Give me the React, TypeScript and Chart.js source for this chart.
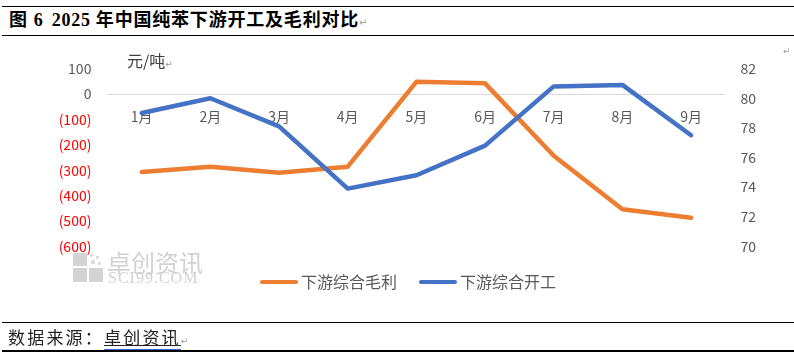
import React, { useEffect, useRef } from 'react';
import { Chart, registerables } from 'chart.js';

Chart.register(...registerables);

// ---- data ----
const categories = ['1月', '2月', '3月', '4月', '5月', '6月', '7月', '8月', '9月'];
const grossProfit = [-307, -286, -310, -286, 48, 42, -243, -454, -487];
const operatingRate = [79.0, 80.0, 78.1, 73.9, 74.8, 76.8, 80.8, 80.9, 77.5];
const seriesNames = ['下游综合毛利', '下游综合开工'];
const profitAxis = [-600, 100, 100]; // min, max, step
const rateAxis = [70, 82, 2]; // min, max, step

const FONT = '"Noto Sans CJK SC", "Noto Sans", sans-serif';
const ORANGE = '#ED7D31';
const BLUE = '#4472C4';

const legendPlugin = {
  id: 'customLegend',
  afterDraw(chart: any) {
    const ctx = chart.ctx;
    ctx.save();
    ctx.font = `16px ${FONT}`;
    ctx.textBaseline = 'middle';
    let x = 260;
    const y = 282;
    chart.data.datasets.forEach((ds: any) => {
      ctx.strokeStyle = ds.borderColor;
      ctx.lineWidth = 4;
      ctx.lineCap = 'round';
      ctx.beginPath();
      ctx.moveTo(x + 2, y);
      ctx.lineTo(x + 36, y);
      ctx.stroke();
      ctx.fillStyle = '#595959';
      ctx.fillText(ds.label, x + 41, y);
      x += 41 + ctx.measureText(ds.label).width + 22;
    });
    ctx.restore();
  },
};

function App() {
  const ref = useRef<HTMLCanvasElement | null>(null);

  useEffect(() => {
    document.body.style.margin = '0';
    const chart = new Chart(ref.current as HTMLCanvasElement, {
      type: 'line',
      data: {
        labels: categories,
        datasets: [
          {
            label: seriesNames[0],
            data: grossProfit,
            borderColor: ORANGE,
            backgroundColor: ORANGE,
            borderWidth: 4.5,
            pointRadius: 0,
            borderCapStyle: 'round',
            borderJoinStyle: 'round',
            tension: 0,
            yAxisID: 'y',
            order: 1,
          },
          {
            label: seriesNames[1],
            data: operatingRate,
            borderColor: BLUE,
            backgroundColor: BLUE,
            borderWidth: 4.5,
            pointRadius: 0,
            borderCapStyle: 'round',
            borderJoinStyle: 'round',
            tension: 0,
            yAxisID: 'y1',
            order: 0,
          },
        ],
      },
      options: {
        animation: false,
        responsive: false,
        maintainAspectRatio: false,
        layout: { padding: { top: 68.6, bottom: 114.6, left: 0, right: 0 } },
        plugins: { legend: { display: false }, tooltip: { enabled: false } },
        scales: {
          x: {
            type: 'category',
            position: { y: 0 } as any,
            offset: true,
            grid: { display: false, drawTicks: false },
            border: { display: false },
            ticks: {
              padding: 14,
              autoSkip: false,
              maxRotation: 0,
              color: '#595959',
              font: { family: FONT, size: 14 },
            },
          },
          y: {
            position: 'left',
            min: profitAxis[0],
            max: profitAxis[1],
            afterFit: (s: any) => {
              s.width = 107.4;
            },
            grid: {
              drawTicks: false,
              lineWidth: 1,
              color: (c: any) => (c.tick && c.tick.value === 0 ? '#D9D9D9' : 'rgba(0,0,0,0)'),
            },
            border: { display: false },
            ticks: {
              stepSize: profitAxis[2],
              padding: 16,
              color: (c: any) => (c.tick && c.tick.value < 0 ? '#FF0000' : '#595959'),
              font: { family: FONT, size: 14 },
              callback: (v: any) => (Number(v) < 0 ? `(${-Number(v)})` : `${v}`),
            },
          },
          y1: {
            position: 'right',
            min: rateAxis[0],
            max: rateAxis[1],
            afterFit: (s: any) => {
              s.width = 68.6;
            },
            grid: { drawOnChartArea: false, drawTicks: false },
            border: { display: false },
            ticks: {
              stepSize: rateAxis[2],
              padding: 15,
              color: '#595959',
              font: { family: FONT, size: 14 },
            },
          },
        },
      } as any,
      plugins: [legendPlugin],
    });
    return () => chart.destroy();
  }, []);

  const rule = (top: number): React.CSSProperties => ({
    position: 'absolute',
    left: 2,
    right: 0,
    top,
    height: 1.5,
    background: '#000',
  });

  return (
    <div
      style={{
        position: 'fixed',
        left: 0,
        top: 0,
        width: 794,
        height: 361,
        background: '#fff',
        overflow: 'hidden',
      }}
    >
      <div style={rule(5.5)} />
      <div style={rule(34.5)} />
      <div
        style={{
          position: 'absolute',
          left: 9,
          top: 6,
          height: 29,
          lineHeight: '29px',
          fontSize: 18,
          fontWeight: 'bold',
          letterSpacing: '0.8px',
          color: '#000',
          fontFamily: '"Liberation Serif", "Noto Sans CJK SC", serif',
          whiteSpace: 'nowrap',
        }}
      >
        图<span style={{ marginLeft: 6 }}>6</span>
        <span style={{ marginLeft: 8 }}>2025</span>
        <span style={{ marginLeft: 5 }}>年中国纯苯下游开工及毛利对比</span>
        <span style={{ fontFamily: '"DejaVu Sans"', fontSize: 10, color: '#999', fontWeight: 'normal' }}>↵</span>
      </div>

      <canvas
        ref={ref}
        width={794}
        height={361}
        style={{ position: 'absolute', left: 0, top: 0, width: 794, height: 361 }}
      />

      <div
        style={{
          position: 'absolute',
          left: 127,
          top: 48,
          fontSize: 16,
          lineHeight: '24px',
          color: '#404040',
          fontFamily: FONT,
          whiteSpace: 'nowrap',
        }}
      >
        元/吨
        <span style={{ fontFamily: '"DejaVu Sans"', fontSize: 9, color: '#999' }}>↵</span>
      </div>
      <div
        style={{
          position: 'absolute',
          left: 783,
          top: 46,
          fontFamily: '"DejaVu Sans"',
          fontSize: 9,
          color: '#999',
        }}
      >
        ↵
      </div>

      {/* watermark */}
      <div style={{ position: 'absolute', left: 73, top: 253, width: 30, height: 29 }}>
        <div style={{ position: 'absolute', left: 0, top: 0, width: 14, height: 13, background: '#D4D4D4' }} />
        <div style={{ position: 'absolute', left: 17, top: 1, width: 3, height: 3, background: '#DCDCDC' }} />
        <div style={{ position: 'absolute', left: 23, top: 3, width: 3, height: 3, background: '#DCDCDC' }} />
        <div style={{ position: 'absolute', left: 18, top: 7, width: 4, height: 4, background: '#DCDCDC' }} />
        <div style={{ position: 'absolute', left: 25, top: 9, width: 3, height: 3, background: '#DCDCDC' }} />
        <div style={{ position: 'absolute', left: 0, top: 15, width: 14, height: 14, background: '#D4D4D4' }} />
        <div style={{ position: 'absolute', left: 16, top: 15, width: 14, height: 14, background: '#D4D4D4' }} />
      </div>
      <div
        style={{
          position: 'absolute',
          left: 107,
          top: 248,
          fontSize: 24,
          lineHeight: '28px',
          color: '#D2D2D2',
          fontFamily: FONT,
          whiteSpace: 'nowrap',
        }}
      >
        卓创资讯
      </div>
      <div
        style={{
          position: 'absolute',
          left: 108,
          top: 270,
          fontSize: 16,
          lineHeight: '16px',
          letterSpacing: '1px',
          color: '#D2D2D2',
          fontFamily: '"Liberation Serif", serif',
          whiteSpace: 'nowrap',
        }}
      >
        SCI99.COM
      </div>

      {/* footer */}
      <div style={rule(321.5)} />
      <div style={rule(350)} />
      <div
        style={{
          position: 'absolute',
          left: 8,
          top: 323,
          height: 27,
          lineHeight: '27px',
          fontSize: 17,
          letterSpacing: '2.2px',
          color: '#222',
          fontFamily: FONT,
          whiteSpace: 'nowrap',
        }}
      >
        数据来源：
        <span style={{ textDecoration: 'underline', borderBottom: '1.5px solid #3366CC', paddingBottom: 0 }}>卓创资讯</span>
        <span style={{ fontFamily: '"DejaVu Sans"', fontSize: 9, color: '#999' }}>↵</span>
      </div>
    </div>
  );
}

export default App;
